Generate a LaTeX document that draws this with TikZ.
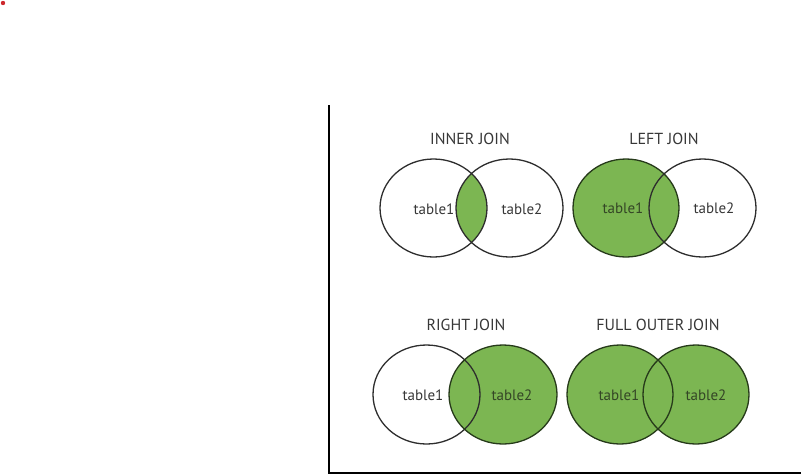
\documentclass[tikz,border=0pt]{standalone}
\usepackage{fontspec}
\setmainfont{PT Sans}
\definecolor{jgreen}{RGB}{124,182,82}
\definecolor{jdark}{RGB}{38,58,26}
\definecolor{jgray}{RGB}{45,45,45}
\definecolor{jtextg}{RGB}{52,70,38}
\definecolor{jtext}{RGB}{55,55,55}
\definecolor{jred}{RGB}{205,40,45}
\begin{document}
\begin{tikzpicture}[x=1pt,y=-1pt,
  title/.style={font=\fontsize{16}{18}\selectfont, text=jtext, inner sep=0pt},
  lab/.style={font=\fontsize{15}{17}\selectfont, text=jtext, inner sep=0pt},
  labg/.style={lab, text=jtextg},
  ring/.style={draw=jgray, line width=1.3pt},
  ringg/.style={draw=jdark, line width=1.3pt},
  axis/.style={draw=black, line width=1.6pt}]
\useasboundingbox (0,0) rectangle (801,475);
\fill[jred] (3,3) circle (2.2);
% axes
\coordinate (ytop) at (329,105);
\coordinate (corner) at (329,473);
\coordinate (xend) at (801,473);
\draw[axis] (ytop) -- (corner) -- (xend);
% INNER JOIN
\begin{scope}
\clip (433.5,208) ellipse (53.5 and 49);
\fill[jgreen] (509.5,208) ellipse (53.5 and 49);
\end{scope}
\draw[ring] (433.5,208) ellipse (53.5 and 49);
\draw[ring] (509.5,208) ellipse (53.5 and 49);
\node[title] (t1) at (470,139) {INNER JOIN};
\node[lab] (a1) at (434,209) {table1};
\node[lab] (b1) at (522,209) {table2};
% LEFT JOIN
\fill[jgreen] (626,208) ellipse (53 and 49);
\draw[ringg] (626,208) ellipse (53 and 49);
\draw[ring] (702.5,208) ellipse (53.5 and 49);
\node[title] (t2) at (664,139) {LEFT JOIN};
\node[labg] (a2) at (623,208) {table1};
\node[lab] (b2) at (714,208) {table2};
% RIGHT JOIN
\fill[jgreen] (503,394.5) ellipse (54 and 49.5);
\draw[ring] (426.5,394.5) ellipse (53.5 and 49.5);
\draw[ringg] (503,394.5) ellipse (54 and 49.5);
\node[title] (t3) at (466,325) {RIGHT JOIN};
\node[lab] (a3) at (423,395) {table1};
\node[labg] (b3) at (512,395) {table2};
% FULL OUTER JOIN
\fill[jgreen] (620,394.5) ellipse (53 and 49.5);
\fill[jgreen] (696,394.5) ellipse (53 and 49.5);
\draw[ringg] (620,394.5) ellipse (53 and 49.5);
\draw[ringg] (696,394.5) ellipse (53 and 49.5);
\node[title] (t4) at (658,325) {FULL OUTER JOIN};
\node[labg] (a4) at (619,395) {table1};
\node[labg] (b4) at (706,395) {table2};
\end{tikzpicture}
\end{document}
